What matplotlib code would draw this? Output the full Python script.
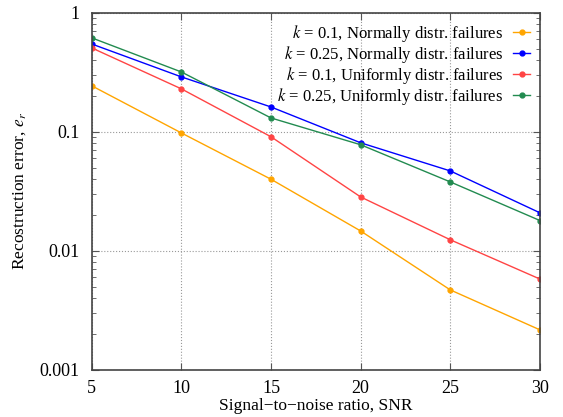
import numpy as np
import matplotlib
matplotlib.use("Agg")
import matplotlib.pyplot as plt
from matplotlib.ticker import LogLocator, FixedLocator, NullFormatter

plt.rcParams['font.family'] = ['Liberation Serif', 'DejaVu Serif']
plt.rcParams['mathtext.fontset'] = 'stix'

snr = [5, 10, 15, 20, 25, 30]
err_norm_01 = [0.244, 0.098, 0.040, 0.0147, 0.0047, 0.00217]
err_norm_025 = [0.548, 0.29, 0.162, 0.081, 0.047, 0.0209]
err_unif_01 = [0.508, 0.23, 0.091, 0.0284, 0.0124, 0.0058]
err_unif_025 = [0.617, 0.319, 0.131, 0.078, 0.038, 0.018]

labels = [r"$k$ = 0.1, Normally distr. failures",
          r"$k$ = 0.25, Normally distr. failures",
          r"$k$ = 0.1, Uniformly distr. failures",
          r"$k$ = 0.25, Uniformly distr. failures"]
colors = ["#ffa500", "#0000ff", "#ff4444", "#228b50"]

fig = plt.figure(figsize=(5.63, 4.17), dpi=100)
ax = fig.add_axes([0.163, 0.113, 0.796, 0.856])

for ys, lab, c in zip([err_norm_01, err_norm_025, err_unif_01, err_unif_025], labels, colors):
    ax.plot(snr, ys, color=c, lw=1.0, marker='o', ms=3.5, label=lab)

ax.set_yscale('log')
ax.set_xlim(5, 30)
ax.set_ylim(0.001, 1)
ax.xaxis.set_major_locator(FixedLocator(snr))
ax.yaxis.set_major_locator(FixedLocator([0.001, 0.01, 0.1, 1]))
ax.set_yticklabels(["0.001", "0.01", "0.1", "1"])
ax.yaxis.set_minor_locator(LogLocator(base=10, subs=np.arange(2, 10)))
ax.yaxis.set_minor_formatter(NullFormatter())
ax.tick_params(direction='in', which='both', top=True, right=True, labelsize=13, color='#555555')
ax.tick_params(which='major', length=5)
ax.tick_params(which='minor', length=3)
ax.tick_params(axis='x', pad=7)
ax.tick_params(axis='y', pad=9)
ax.grid(True, which='major', ls=':', color='#999999', lw=0.8)
for s in ax.spines.values():
    s.set_color('#444444')
    s.set_linewidth(1.2)

ax.set_xlabel("Signal\u2212to\u2212noise ratio, SNR", fontsize=12.5, labelpad=1)
ax.set_ylabel(r"Recostruction error, $e_r$", fontsize=12.5, labelpad=8)

leg = ax.legend(loc='upper right', markerfirst=False, frameon=False, fontsize=12,
                handlelength=1.0, handletextpad=0.6, labelspacing=0.0, borderaxespad=0.2)

fig.savefig("out.png", dpi=100)
